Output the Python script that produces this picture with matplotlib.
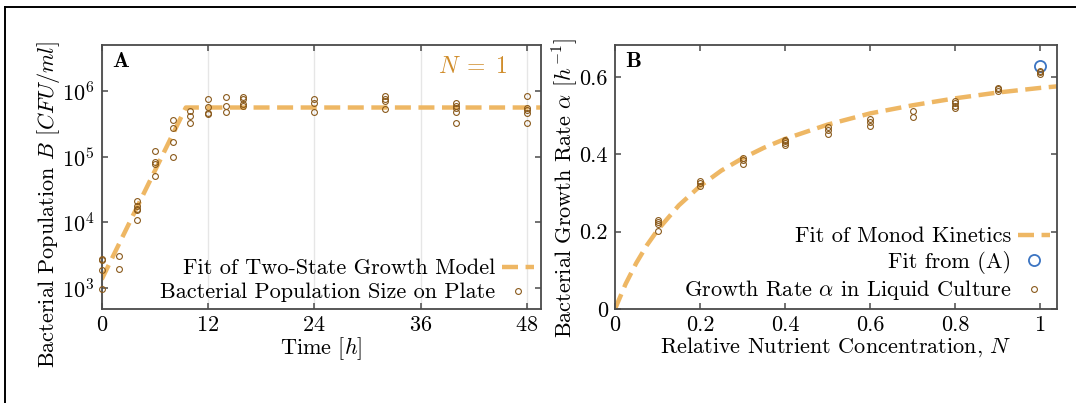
import numpy as np
import matplotlib
matplotlib.use('Agg')
import matplotlib.pyplot as plt
from matplotlib.lines import Line2D
from matplotlib.ticker import LogLocator, NullLocator

plt.rcParams['font.family'] = 'serif'
plt.rcParams['font.serif'] = ['cmr10']
plt.rcParams['mathtext.fontset'] = 'cm'
plt.rcParams['axes.formatter.use_mathtext'] = True
plt.rcParams['axes.unicode_minus'] = False
plt.rcParams['font.size'] = 16

# panel A: plate counts
t_hours = [0, 0, 0, 0, 2, 2, 4, 4, 4, 4, 4, 6, 6, 6, 6, 8, 8, 8, 8, 10, 10, 10,
           12, 12, 12, 12, 14, 14, 14, 16, 16, 16, 16, 24, 24, 24,
           32, 32, 32, 32, 40, 40, 40, 40, 40, 48, 48, 48, 48, 48]
pop = [2800, 2700, 1860, 950, 3100, 1950, 21000, 18000, 16000, 15500, 10700,
       123000, 83000, 77000, 51000, 360000, 270000, 170000, 100000,
       500000, 410000, 330000, 745000, 565000, 468000, 447000,
       800000, 585000, 475000, 800000, 745000, 630000, 590000,
       745000, 665000, 485000, 840000, 745000, 705000, 535000,
       650000, 590000, 560000, 485000, 330000,
       840000, 545000, 515000, 465000, 330000]
fit_t = [0, 9.5, 49.6]
fit_pop = [1350, 560000, 560000]

# panel B: growth rates
nutrient = [0.1] * 4 + [0.2] * 3 + [0.3] * 3 + [0.4] * 4 + [0.5] * 3 + [0.6] * 3 + \
           [0.7] * 2 + [0.8] * 4 + [0.9] * 3 + [1.0] * 3
alpha = [0.229, 0.225, 0.219, 0.202, 0.330, 0.325, 0.319, 0.390, 0.385, 0.376,
         0.438, 0.434, 0.430, 0.424, 0.471, 0.464, 0.454, 0.492, 0.485, 0.473,
         0.511, 0.496, 0.538, 0.532, 0.526, 0.520, 0.573, 0.568, 0.564,
         0.615, 0.612, 0.608]
fitA_N = [1.0]
fitA_alpha = [0.628]
monod_N = [0, 0.025, 0.05, 0.075, 0.1, 0.15, 0.2, 0.25, 0.3, 0.35, 0.4, 0.5,
           0.6, 0.7, 0.8, 0.9, 1.0, 1.04]
monod_alpha = [0, 0.065, 0.119, 0.165, 0.204, 0.268, 0.318, 0.358, 0.390, 0.417,
               0.440, 0.477, 0.506, 0.527, 0.545, 0.560, 0.572, 0.576]

fit_col = '#EEB764'
pt_col = '#8A5A1C'
blue = '#3B74C2'
spine_col = '#4a4a4a'

fig = plt.figure(figsize=(10.76, 4.03), dpi=100)
axA = fig.add_axes([0.0945, 0.2333, 0.4083, 0.655])
axB = fig.add_axes([0.5716, 0.2333, 0.4108, 0.655])

for ax in (axA, axB):
    for s in ax.spines.values():
        s.set_color(spine_col)
        s.set_linewidth(1.3)
    ax.tick_params(direction='in', top=True, right=True, length=4.5, width=1.1,
                   color=spine_col, pad=5, labelsize=16)

leg_kw = dict(loc='lower right', frameon=False, markerfirst=False, handlelength=1.45,
              handletextpad=0.3, borderpad=0.2, borderaxespad=0.1, labelspacing=0.2,
              fontsize=16)

# A
axA.grid(True, axis='x', color='#e6e6e6', linewidth=1)
axA.set_axisbelow(True)
axA.plot(fit_t, fit_pop, '--', color=fit_col, lw=3.2, dashes=(3.6, 1.7),
         label='Fit of Two-State Growth Model', zorder=2)
axA.plot(t_hours, pop, 'o', mfc='none', mec=pt_col, mew=0.8, ms=4.2,
         label='Bacterial Population Size on Plate', zorder=3, clip_on=False)
axA.set_yscale('log')
axA.set_xlim(0, 49.6)
axA.set_ylim(10 ** 2.68, 10 ** 6.7)
axA.set_xticks([0, 12, 24, 36, 48])
axA.yaxis.set_major_locator(LogLocator(base=10, numticks=10))
axA.yaxis.set_minor_locator(NullLocator())
axA.set_xlabel('Time $[h]$', labelpad=0)
axA.text(0.023, 0.975, r'$\mathbf{A}$', transform=axA.transAxes, ha='left', va='top', fontsize=16)
axA.text(0.845, 0.917, r'$N\;=\;1$', transform=axA.transAxes, ha='center', va='center',
         fontsize=17, color='#D08D2C')
axA.legend(**leg_kw)
fig.text(49 / 1076, 1 - 205 / 403, r'Bacterial Population $B$ $[CFU/ml]$',
         rotation=90, ha='center', va='center', fontsize=16)

# B
axB.plot(monod_N, monod_alpha, '--', color=fit_col, lw=3.2, dashes=(3.6, 1.7),
         label='Fit of Monod Kinetics', zorder=2)
axB.plot(fitA_N, fitA_alpha, 'o', mfc='none', mec=blue, mew=1.3, ms=8,
         label='Fit from (A)', zorder=3)
axB.plot(nutrient, alpha, 'o', mfc='none', mec=pt_col, mew=0.8, ms=4.2,
         label=r'Growth Rate $\alpha$ in Liquid Culture', zorder=4)
axB.set_xlim(0, 1.04)
axB.set_ylim(0, 0.683)
axB.set_xticks([0, 0.2, 0.4, 0.6, 0.8, 1])
axB.set_xticklabels(['0', '0.2', '0.4', '0.6', '0.8', '1'])
axB.set_yticks([0, 0.2, 0.4, 0.6])
axB.set_yticklabels(['0', '0.2', '0.4', '0.6'])
axB.set_xlabel('Relative Nutrient Concentration, $N$', labelpad=0)
axB.text(0.023, 0.975, r'$\mathbf{B}$', transform=axB.transAxes, ha='left', va='top', fontsize=16)
axB.legend(**leg_kw)
fig.text(565 / 1076, 1 - 188 / 403, r'Bacterial Growth Rate $\alpha$ $[h^{-1}]$',
         rotation=90, ha='center', va='center', fontsize=16)

# outer frame (top and left edges visible)
fig.add_artist(Line2D([5 / 1076, 1], [1 - 7 / 403, 1 - 7 / 403], color='black', lw=1.4,
                      transform=fig.transFigure))
fig.add_artist(Line2D([5 / 1076, 5 / 1076], [0, 1 - 7 / 403], color='black', lw=1.4,
                      transform=fig.transFigure))

fig.savefig('out.png', dpi=100)
